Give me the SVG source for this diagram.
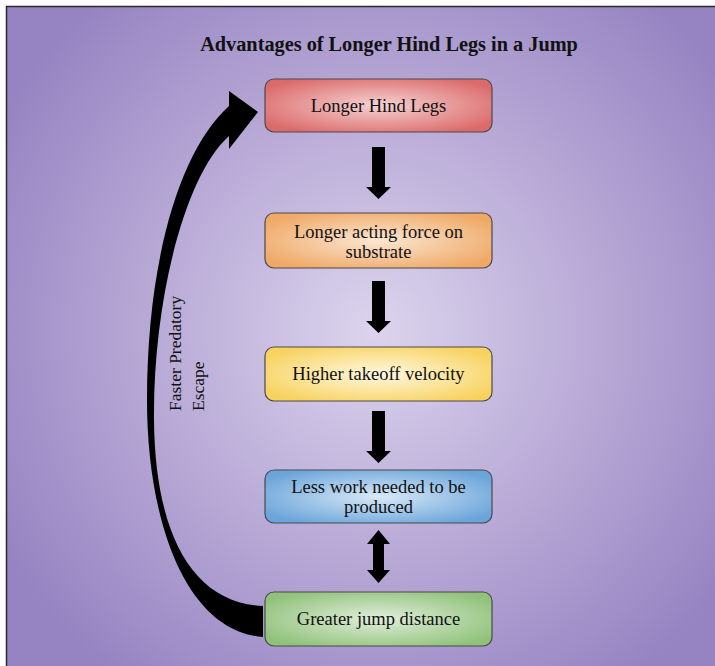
<svg xmlns="http://www.w3.org/2000/svg" width="715" height="666" viewBox="0 0 715 666">
<defs>
<radialGradient id="bg" cx="375" cy="330" r="430" gradientUnits="userSpaceOnUse">
<stop offset="0" stop-color="#dcd4ed"/>
<stop offset="0.55" stop-color="#b6a7d5"/>
<stop offset="1" stop-color="#9684c2"/>
</radialGradient>
<radialGradient id="g1" cx="0.5" cy="0.5" r="0.6"><stop offset="0" stop-color="#f6d3d3"/><stop offset="1" stop-color="#db6a6a"/></radialGradient>
<radialGradient id="g2" cx="0.5" cy="0.5" r="0.6"><stop offset="0" stop-color="#fce7d3"/><stop offset="1" stop-color="#efa866"/></radialGradient>
<radialGradient id="g3" cx="0.5" cy="0.5" r="0.6"><stop offset="0" stop-color="#fff8e2"/><stop offset="1" stop-color="#f8d25e"/></radialGradient>
<radialGradient id="g4" cx="0.5" cy="0.5" r="0.6"><stop offset="0" stop-color="#d9e9f7"/><stop offset="1" stop-color="#6aa4da"/></radialGradient>
<radialGradient id="g5" cx="0.5" cy="0.5" r="0.6"><stop offset="0" stop-color="#e1eedb"/><stop offset="1" stop-color="#90c27a"/></radialGradient>
</defs>
<style>
.box{stroke:#4a4a4a;stroke-width:1.2}
.t{font-family:"Liberation Serif","Times New Roman",serif;font-size:18.5px;fill:#111;text-anchor:middle}
.title{font-family:"Liberation Serif","Times New Roman",serif;font-size:20.3px;font-weight:bold;fill:#111;text-anchor:middle}
.side{font-family:"Liberation Serif","Times New Roman",serif;font-size:17.5px;fill:#111}
.arr{fill:#000}
</style>
<rect x="0" y="0" width="715" height="666" fill="#fff"/>
<rect x="6.5" y="6.5" width="712" height="664" fill="url(#bg)" stroke="#2a2a2a" stroke-width="1.5"/>
<text class="title" x="389" y="51">Advantages of Longer Hind Legs in a Jump</text>
<g id="connectors">
<polygon class="arr" points="372,147 385,147 385,187 391,187 378.5,199 366,187 372,187"/>
<polygon class="arr" points="372,281 385,281 385,321 391,321 378.5,333 366,321 372,321"/>
<polygon class="arr" points="372,411 385,411 385,451 391,451 378.5,463 366,451 372,451"/>
<polygon class="arr" points="378.5,530 390,544 384,544 384,570 390,570 378.5,583 367,570 373,570 373,544 367,544"/>
<path id="curved" class="arr" d="M263,637 C185,631 147,520 147,400 C147,260 180,150 229,106 L229,91 L258,112 L229,149 L229,136 C185,175 153,300 154,420 C155,530 190,603 263,606 Z"/>
<text class="side" transform="translate(181,411) rotate(-90)">Faster Predatory</text>
<text class="side" transform="translate(204,411) rotate(-90)">Escape</text>
</g>
<g id="n1"><rect class="box" x="265" y="79" width="227" height="53" rx="9" fill="url(#g1)"/><text class="t" x="378.5" y="112">Longer Hind Legs</text></g>
<g id="n2"><rect class="box" x="265" y="213" width="227" height="55" rx="9" fill="url(#g2)"/><text class="t" x="378.5" y="238">Longer acting force on</text><text class="t" x="378.5" y="258">substrate</text></g>
<g id="n3"><rect class="box" x="265" y="347" width="227" height="54" rx="9" fill="url(#g3)"/><text class="t" x="378.5" y="380">Higher takeoff velocity</text></g>
<g id="n4"><rect class="box" x="265" y="470" width="227" height="53" rx="9" fill="url(#g4)"/><text class="t" x="378.5" y="493">Less work needed to be</text><text class="t" x="378.5" y="513">produced</text></g>
<g id="n5"><rect class="box" x="265" y="592" width="227" height="54" rx="9" fill="url(#g5)"/><text class="t" x="378.5" y="625">Greater jump distance</text></g>
</svg>
